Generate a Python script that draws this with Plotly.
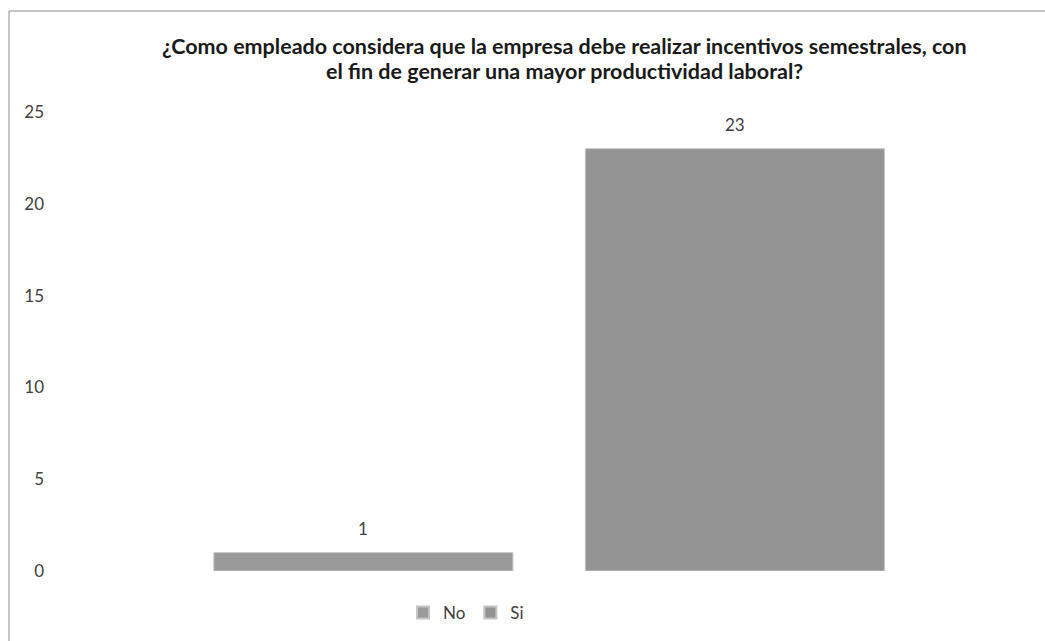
import plotly.graph_objects as go

# Survey answers and their counts
categories = ["No", "Si"]
counts = [1, 23]
bar_colors = ["#9a9a9a", "#939393"]

title_lines = [
    "¿Como empleado considera que la empresa debe realizar incentivos semestrales, con",
    "el fin de generar una mayor productividad laboral?",
]
y_ticks = [0, 5, 10, 15, 20, 25]

# plot area geometry in pixels
W, H = 1045, 641
L, R, T, B = 55, 1, 112, 70
plot_w = W - L - R
plot_h = H - T - B


def px_to_paper_y(ypx):
    return (H - B - ypx) / plot_h


fig = go.Figure()
for cat, val, col in zip(categories, counts, bar_colors):
    fig.add_trace(go.Bar(
        x=[cat], y=[val], name=cat, width=0.805,
        marker=dict(color=col, line=dict(color="#c4c4c4", width=1)),
        hoverinfo="x+y",
    ))
    # value label above each bar
    fig.add_annotation(
        x=cat, y=val, text=str(val), showarrow=False,
        yanchor="middle", yshift=24,
        font=dict(family="Lato", size=17, color="#404040"),
    )

# two-line bold title
for line, ypx in zip(title_lines, [46, 71]):
    fig.add_annotation(
        text="<b>" + line + "</b>", showarrow=False,
        xref="paper", yref="paper", x=(564.5 - L) / plot_w, y=px_to_paper_y(ypx),
        xanchor="center", yanchor="middle",
        font=dict(family="Lato", size=21.5, color="#1a1a1a"),
    )

fig.update_layout(
    width=W, height=H,
    margin=dict(l=L, r=R, t=T, b=B),
    paper_bgcolor="white", plot_bgcolor="white",
    barmode="overlay",
    xaxis=dict(
        type="category", range=[-0.830, 1.832],
        showticklabels=False, showgrid=False, zeroline=False,
        showline=False, ticks="",
    ),
    yaxis=dict(
        range=[0, 25], tickvals=y_ticks, showgrid=False, zeroline=False,
        showline=False, ticks="", ticklabelstandoff=10,
        tickfont=dict(family="Lato", size=17, color="#404040"),
    ),
    legend=dict(
        orientation="h", x=(466 - L) / plot_w, xanchor="center",
        y=px_to_paper_y(613), yanchor="middle",
        font=dict(family="Lato", size=17, color="#404040"),
        itemwidth=30, itemsizing="constant",
    ),
    showlegend=True,
)

# chart frame (left and top edges visible)
fig.add_shape(
    type="rect", xref="paper", yref="paper",
    x0=(9 - L) / plot_w, x1=1.05, y0=-0.3, y1=px_to_paper_y(11),
    line=dict(color="#8c8c8c", width=1), fillcolor="rgba(0,0,0,0)",
    layer="below",
)

fig.write_html("out.html")
